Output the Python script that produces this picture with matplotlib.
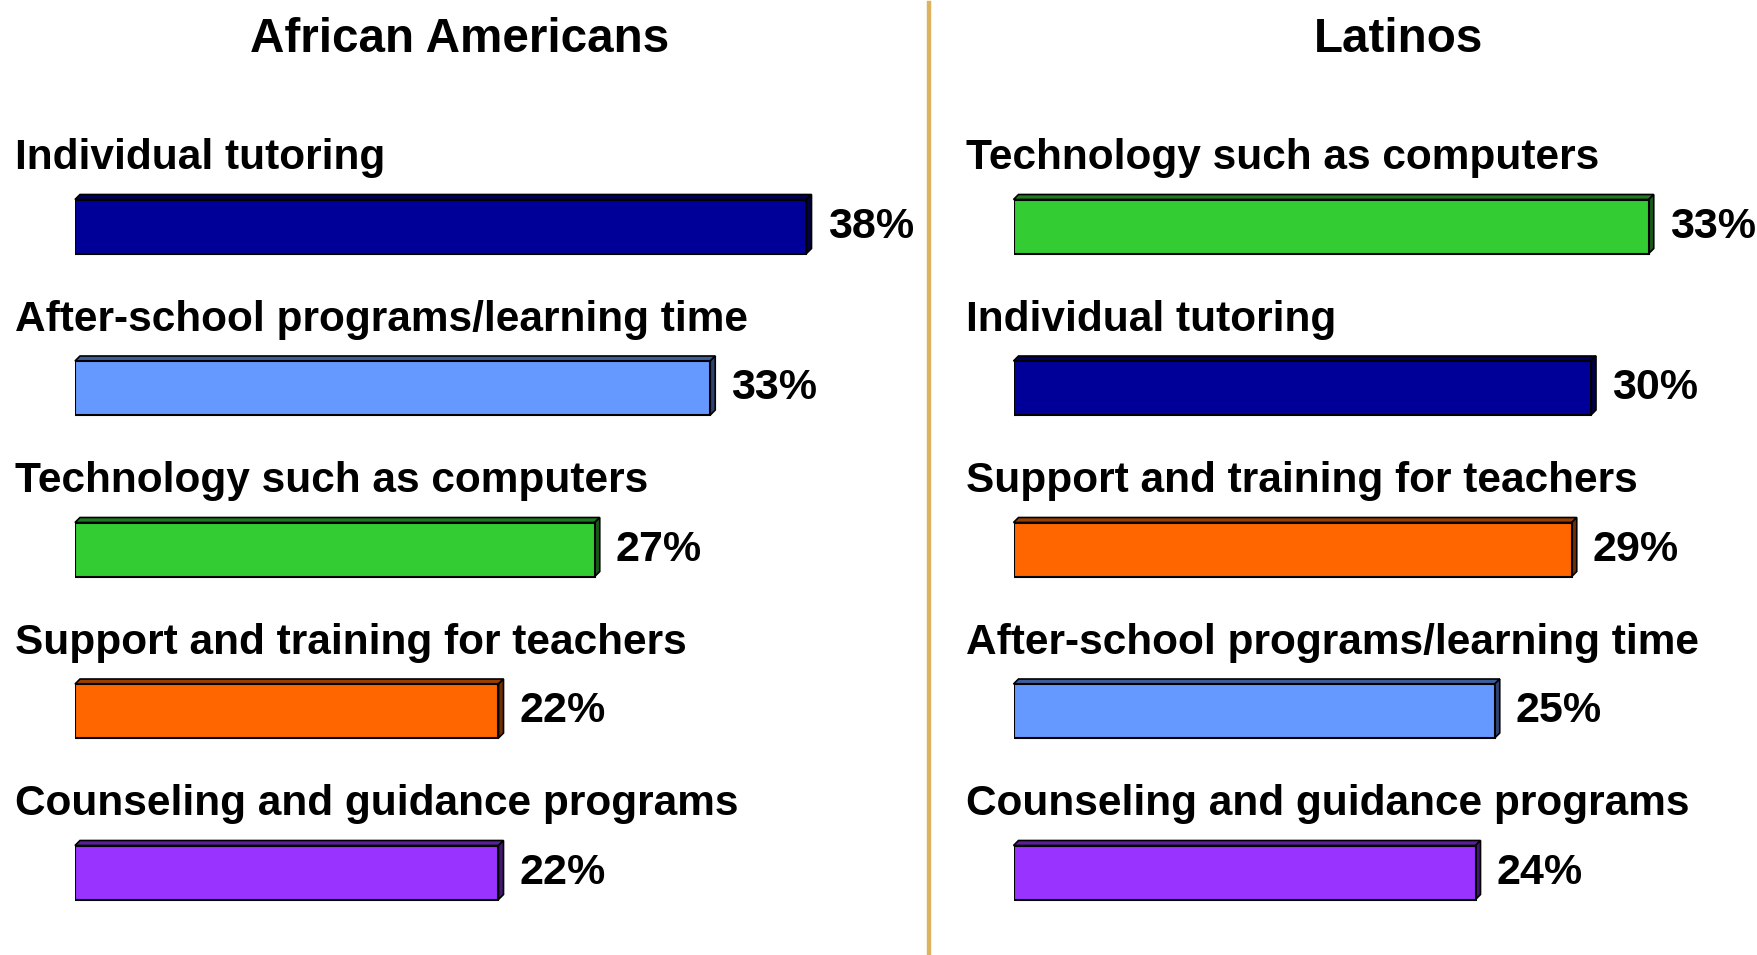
import matplotlib.pyplot as plt
from matplotlib.patches import Polygon
from matplotlib.colors import to_rgb

plt.rcParams['font.family'] = ['Liberation Sans', 'DejaVu Sans']

left_title = 'African Americans'
left_labels = ['Individual tutoring', 'After-school programs/learning time',
               'Technology such as computers', 'Support and training for teachers',
               'Counseling and guidance programs']
left_values = [38, 33, 27, 22, 22]

right_title = 'Latinos'
right_labels = ['Technology such as computers', 'Individual tutoring',
                'Support and training for teachers', 'After-school programs/learning time',
                'Counseling and guidance programs']
right_values = [33, 30, 29, 25, 24]

colors = {
    'Individual tutoring': '#000099',
    'After-school programs/learning time': '#6699FF',
    'Technology such as computers': '#33CC33',
    'Support and training for teachers': '#FF6600',
    'Counseling and guidance programs': '#9933FF',
}

W, H = 1758, 955
PX_PER_PCT = 19.25
ROW_PX = 161.5
FIRST_ROW_PX = 226.5
BAR_H = 54 / ROW_PX
DEPTH_X = 5 / PX_PER_PCT
DEPTH_Y = 5 / ROW_PX


def darker(c, f):
    r, g, b = to_rgb(c)
    return (r * f, g * f, b * f)


def draw_panel(fig, left_px, label_off_px, labels, values):
    width_px = W - left_px
    ax = fig.add_axes([left_px / W, 0, width_px / W, 1])
    ax.set_xlim(0, width_px / PX_PER_PCT)
    ax.set_ylim((H - FIRST_ROW_PX) / ROW_PX, -FIRST_ROW_PX / ROW_PX)
    ax.axis('off')
    for i, (lab, val) in enumerate(zip(labels, values)):
        c = colors[lab]
        top = i - BAR_H / 2
        bot = i + BAR_H / 2
        # top face and side face for the 3D look
        ax.add_patch(Polygon([(0, top), (DEPTH_X, top - DEPTH_Y), (val + DEPTH_X, top - DEPTH_Y), (val, top)],
                             closed=True, facecolor=darker(c, 0.6), edgecolor='black', lw=1.2, clip_on=False))
        ax.add_patch(Polygon([(val, top), (val + DEPTH_X, top - DEPTH_Y), (val + DEPTH_X, bot - DEPTH_Y), (val, bot)],
                             closed=True, facecolor=darker(c, 0.45), edgecolor='black', lw=1.2, clip_on=False))
        ax.barh(i, val, height=BAR_H, color=c, edgecolor='black', lw=1.5)
        ax.text(val + 1.1, i, f'{val}%', ha='left', va='center', fontsize=31, fontweight='bold')
        ax.text(-label_off_px / PX_PER_PCT, i - 68.5 / ROW_PX, lab, ha='left', va='center',
                fontsize=30.5, fontweight='bold', clip_on=False)
    return ax


fig = plt.figure(figsize=(W / 100, H / 100), dpi=100)
draw_panel(fig, 75, 60, left_labels, left_values)
draw_panel(fig, 1013.5, 47, right_labels, right_values)

fig.text(460 / W, 1 - 39.5 / H, left_title, ha='center', va='center', fontsize=34.3, fontweight='bold')
fig.text(1399 / W, 1 - 39.5 / H, right_title, ha='center', va='center', fontsize=34.3, fontweight='bold')
fig.add_artist(plt.Line2D([929.5 / W, 929.5 / W], [0, 1 - 3.4 / H], color='#DDB35F', lw=3.2))

fig.savefig('out.png', dpi=100)
